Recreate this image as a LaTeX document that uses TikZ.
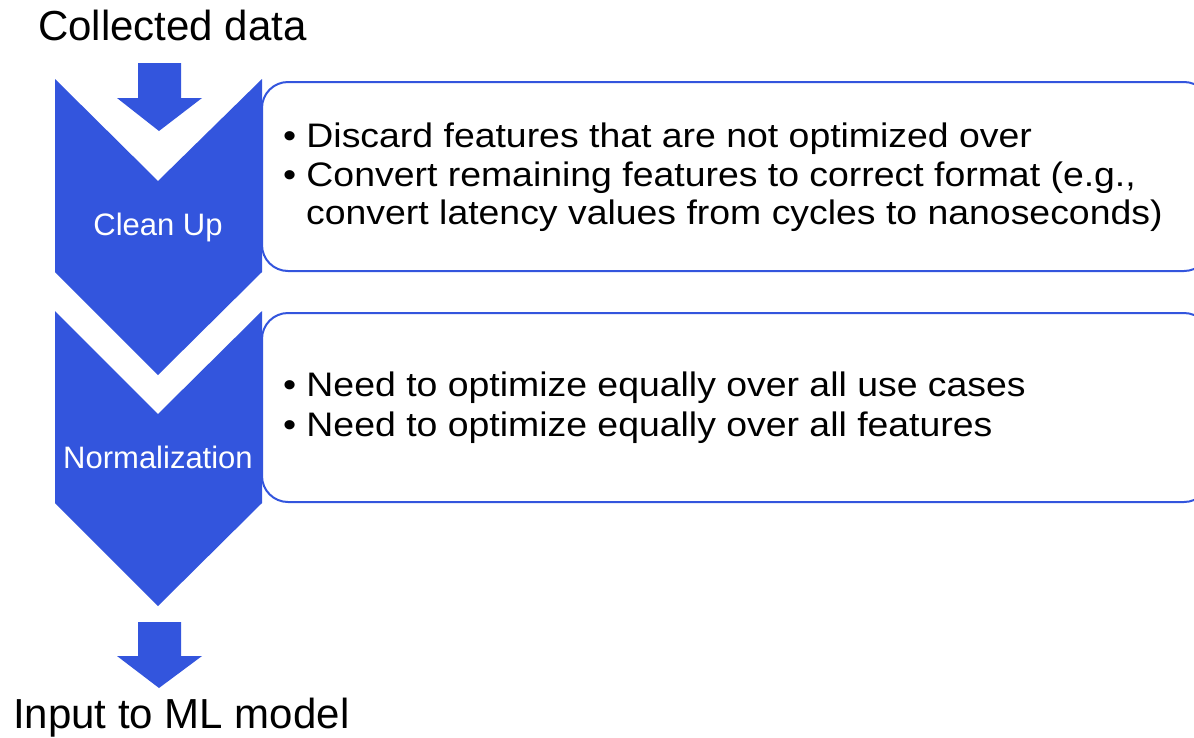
\documentclass[tikz,border=0pt]{standalone}
\usepackage{fontspec}
\setmainfont{Liberation Sans}
\newfontfamily\widesans[FakeStretch=1.1]{Liberation Sans}
\definecolor{stageblue}{HTML}{3355DD}
\tikzset{
  stagefill/.style={fill=stageblue, draw=none},
  infobox/.style={draw=stageblue, line width=2pt, rounded corners=26pt, fill=white},
  stagelabel/.style={text=white, font=\fontsize{31}{31}\selectfont, inner sep=0pt},
  bulletline/.style={anchor=base west, inner sep=0pt, font=\widesans\fontsize{34}{34}\selectfont},
  endlabel/.style={anchor=base west, inner sep=0pt, font=\fontsize{42}{42}\selectfont}
}
\begin{document}
\begin{tikzpicture}[x=1pt, y=-1pt]
\useasboundingbox (0,0) rectangle (1194,737);

% info panels behind the stage chevrons
\draw[infobox] (262,82) rectangle (1210,271);
\draw[infobox] (262,313) rectangle (1210,502);

% block arrow into the pipeline
\fill[stagefill] (138,63) -- (181,63) -- (181,98) -- (202,98) -- (159,131)
  -- (117,98) -- (138,98) -- cycle;

% stage chevrons
\fill[stagefill] (55,79) -- (158,181) -- (262,79) -- (262,272) -- (158,375)
  -- (55,272) -- cycle;
\fill[stagefill] (55,311) -- (158,414) -- (262,311) -- (262,503) -- (158,606)
  -- (55,503) -- cycle;

% block arrow out of the pipeline
\fill[stagefill] (138,622) -- (181,622) -- (181,656) -- (202,656) -- (159,688)
  -- (117,656) -- (138,656) -- cycle;

% labels
\node[endlabel] (src) at (38,40) {Collected data};
\node[endlabel] (dst) at (13,728) {Input to ML model};

\node[stagelabel] (clean) at (158,227) {Clean Up};
\node[stagelabel] (norm) at (158,457) {Normalization};

\node[bulletline] (b1) at (283,147) {•\hspace{0.3em}Discard features that are not optimized over};
\node[bulletline] (b2) at (283,186) {•\hspace{0.3em}Convert remaining features to correct format (e.g.,};
\node[bulletline] (b3) at (306,224) {convert latency values from cycles to nanoseconds)};

\node[bulletline] (b4) at (283,396) {•\hspace{0.3em}Need to optimize equally over all use cases};
\node[bulletline] (b5) at (283,436) {•\hspace{0.3em}Need to optimize equally over all features};
\end{tikzpicture}
\end{document}
